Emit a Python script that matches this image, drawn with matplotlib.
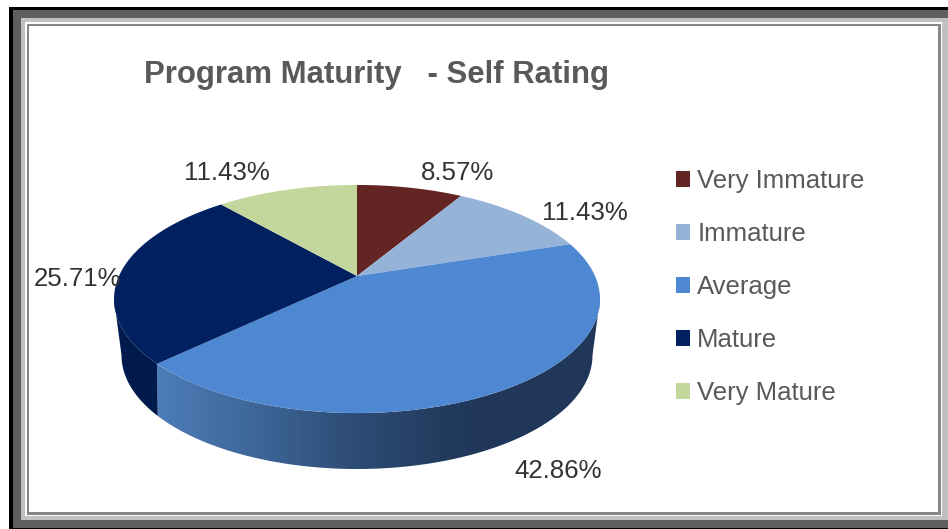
import numpy as np
import matplotlib
matplotlib.use("Agg")
import matplotlib.pyplot as plt
from matplotlib.patches import Rectangle, Patch, Polygon
from matplotlib.colors import LinearSegmentedColormap

categories = ["Very Immature", "Immature", "Average", "Mature", "Very Mature"]
values = [8.57, 11.43, 42.86, 25.71, 11.43]
colors = ["#632523", "#95B3D7", "#4F88D2", "#002060", "#C3D69B"]
side_colors = ["#4A1B1A", "#6F86A1", None, "#001A4E", "#929F74"]
title = "Program Maturity   - Self Rating"
label_xy = [(458, 171), (585, 212), (558, 470), (78, 278), (227, 172)]

plt.rcParams["font.family"] = ["Liberation Sans", "DejaVu Sans"]
W, H = 948, 529
fig = plt.figure(figsize=(W / 100, H / 100), dpi=100, facecolor="white")
ax = fig.add_axes([0, 0, 1, 1])
ax.axis("off")

# nested picture frame
frame = [((9, 7), (948, 529), "#000000"), ((13, 10), (948, 528), "#5F5F5F"),
         ((21, 18), (948, 520), "#C0C0C0"), ((25, 22), (942, 516), "#FFFFFF"),
         ((27, 24), (941, 515), "#868686"), ((29, 26), (938, 512), "#FFFFFF")]
for (x0, y0), (x1, y1), c in frame:
    ax.add_patch(Rectangle((x0, y0), x1 - x0, y1 - y0, fc=c, ec="none", zorder=0))

CX = 357
def top_rim(th):
    s, c = np.cos(th), np.sin(th)
    d = 1 + 0.2018 * s
    return CX + 238 * c / d, 276 - 109.4 * s / d

def low_rim(th):
    s, c = np.cos(th), np.sin(th)
    d = 1 + 0.25 * s
    return CX + 228 * c / d, 327 - 106.5 * s / d

side_cmap = LinearSegmentedColormap.from_list(
    "side", [(0.0, "#4C7CB6"), (0.3, "#3E6698"), (0.62, "#2C4B74"), (0.9, "#223B5D"), (1.0, "#20375A")])

edges = np.radians(np.concatenate([[0], np.cumsum(values)]) * 3.6 / (sum(values) / 100))

# side wall: silhouette between the tangent points of the two rims
T0, T1 = np.radians(101.6), np.radians(258.4)
L0, L1 = np.radians(104.5), np.radians(255.5)
for i in range(len(values)):
    a, b = edges[i], edges[i + 1]
    ta, tb = max(a, T0), min(b, T1)
    la, lb = max(a, L0), min(b, L1)
    if ta >= tb or la >= lb:
        continue
    tx, ty = top_rim(np.linspace(ta, tb, 200))
    lx, ly = low_rim(np.linspace(lb, la, 200))
    pts = np.column_stack([np.r_[tx, lx], np.r_[ty, ly]])
    if side_colors[i] is None:
        grad = side_cmap(np.clip((np.arange(100, 620) - 160) / 320, 0, 1))[None, :, :]
        im = ax.imshow(grad, extent=(100, 620, 480, 270), aspect="auto", zorder=2, interpolation="bilinear")
        im.set_clip_path(Polygon(pts, closed=True, transform=ax.transData))
    else:
        ax.add_patch(Polygon(pts, closed=True, fc=side_colors[i], ec="none", zorder=2))

ax.set_xlim(0, W)
ax.set_ylim(H, 0)

# top face
for i in range(len(values)):
    ths = np.linspace(edges[i], edges[i + 1], 200)
    xs, ys = top_rim(ths)
    ax.fill(np.r_[CX, xs], np.r_[276, ys], fc=colors[i], ec="none", zorder=3)

for v, (x, y) in zip(values, label_xy):
    ax.text(x, y + 1.5, f"{v:.2f}%", ha="center", va="center", fontsize=18.6, color="#333333", zorder=5)

ax.text(144, 83, title, ha="left", va="baseline", fontsize=22.4, fontweight="bold", color="#595959", zorder=5)

handles = [Patch(fc=c, ec="none") for c in colors]
leg = ax.legend(handles, categories, loc="upper left", bbox_to_anchor=(676 / W, 1 - 169 / H),
                frameon=False, fontsize=18.5, labelcolor="#595959", borderpad=0, borderaxespad=0,
                handlelength=0.55, handleheight=0.55, handletextpad=0.28, labelspacing=1.13)
leg.set_zorder(5)

fig.savefig("out.png", dpi=100)
